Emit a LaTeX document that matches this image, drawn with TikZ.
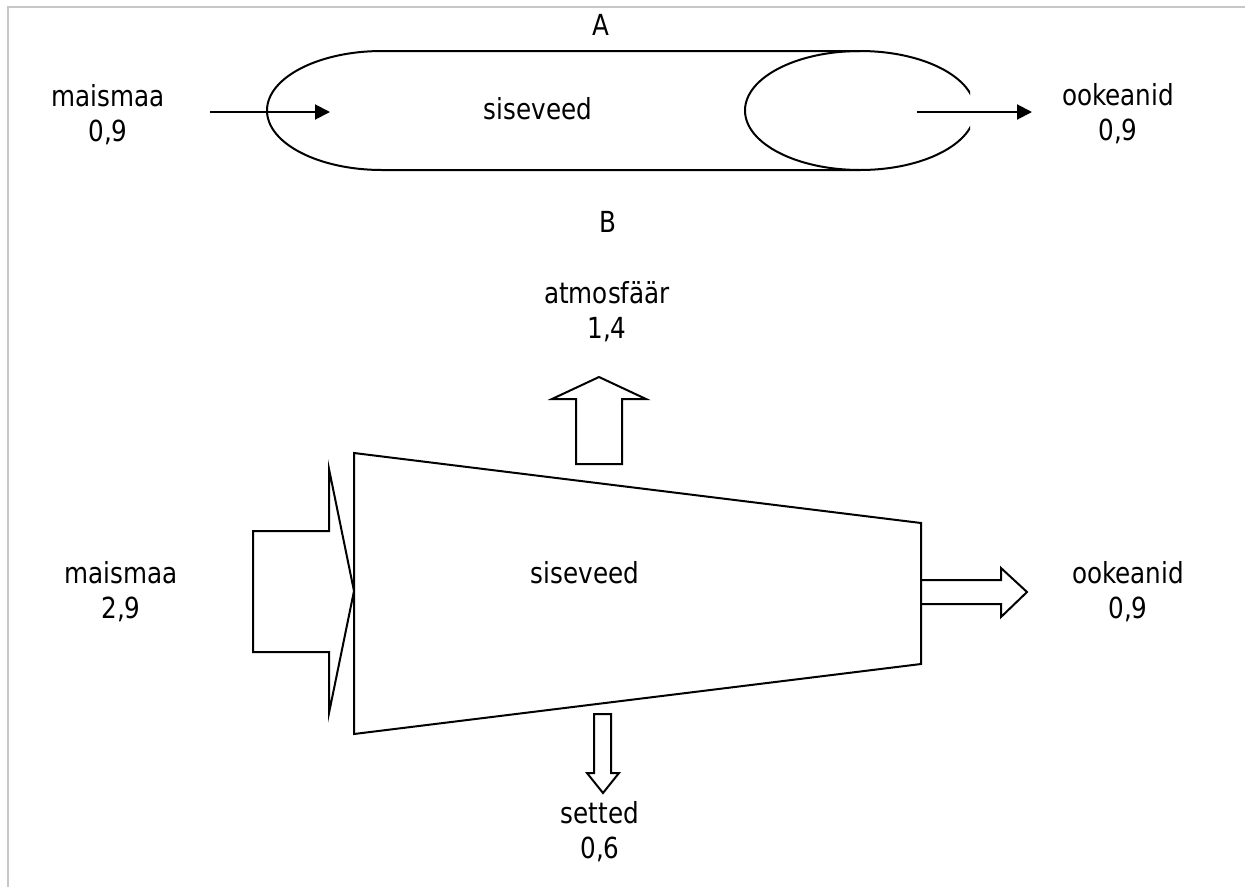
\documentclass[tikz,border=0pt]{standalone}
\usepackage{fontspec}
\setmainfont{DejaVu Sans}[FakeStretch=0.85]
\usetikzlibrary{arrows.meta}
\begin{document}
\begin{tikzpicture}[x=1pt,y=1pt,
  lbl/.style={anchor=base,inner sep=0pt,align=center,font=\fontsize{29}{35}\selectfont},
  outl/.style={line width=2pt,line join=miter},
  thin arrow/.style={line width=2pt,-{Triangle[length=15pt,width=15pt]}},
  fat arrow/.style={line width=2pt,line join=miter,fill=white}]
\useasboundingbox (0,0) rectangle (1245,-887);
% frame
\draw[black!22,line width=1.5pt] (8,-887) -- (8,-7) -- (1245,-7);
% ===== A =====
\node[lbl] (A) at (601,-35) {A};
\draw[outl] (860,-51) -- (382,-51) arc[start angle=90,end angle=270,x radius=115,y radius=59.5] -- (860,-170);
\begin{scope}
  \clip (700,0) rectangle (970,-200);
  \draw[outl] (860,-110.5) ellipse[x radius=115,y radius=59.5];
\end{scope}
\node[lbl] (sisA) at (538,-119) {siseveed};
\node[lbl] (maisA) at (108,-141) {maismaa\\0,9};
\node[lbl] (ookA) at (1118,-140) {ookeanid\\0,9};
\coordinate (inA1) at (210,-112);
\coordinate (inA2) at (330,-112);
\coordinate (outA1) at (917,-112);
\coordinate (outA2) at (1032,-112);
\draw[thin arrow] (inA1) -- (inA2);
\draw[thin arrow] (outA1) -- (outA2);
% ===== B =====
\node[lbl] (B) at (608,-232) {B};
\draw[outl] (354,-453) -- (921,-523) -- (921,-664) -- (354,-734) -- cycle;
\draw[fat arrow] (253,-531) -- (329,-531) -- (329,-469) -- (354,-591) -- (329,-713) -- (329,-652) -- (253,-652) -- cycle;
\draw[fat arrow] (576,-464) -- (576,-399) -- (552,-399) -- (599,-377) -- (646,-399) -- (622,-399) -- (622,-464) -- cycle;
\draw[fat arrow] (921,-580) -- (1001,-580) -- (1001,-568) -- (1027,-592) -- (1001,-617) -- (1001,-604) -- (921,-604) -- cycle;
\draw[fat arrow] (594,-714) -- (611,-714) -- (611,-773) -- (619,-773) -- (603,-793) -- (587,-773) -- (594,-773) -- cycle;
\node[lbl] (sisB) at (585,-583) {siseveed};
\node[lbl] (maisB) at (121,-618) {maismaa\\2,9};
\node[lbl] (ookB) at (1128,-618) {ookeanid\\0,9};
\node[lbl] (atm) at (607,-338) {atmosfäär\\1,4};
\node[lbl] (set) at (600,-858) {setted\\0,6};
\end{tikzpicture}
\end{document}
